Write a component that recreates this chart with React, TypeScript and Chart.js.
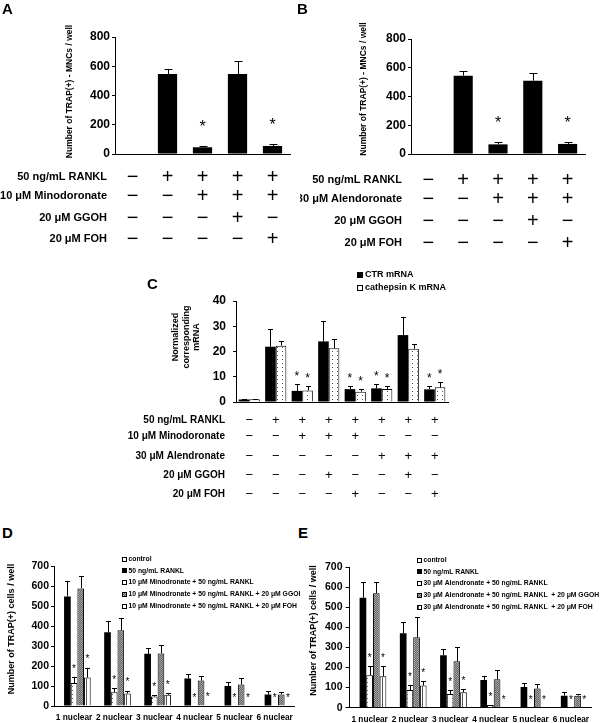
import React, { useEffect, useRef } from 'react';
import { Chart, registerables } from 'chart.js';

Chart.register(...registerables);

const FONT = '"Liberation Sans", Arial, Helvetica, sans-serif';

// ---------------- Panel A ----------------
const aCategories = ['control', 'RANKL', 'RANKL + Minodoronate', 'RANKL + Minodoronate + GGOH', 'RANKL + Minodoronate + FOH'];
const aValues = [0, 547, 46, 547, 55];
const aErrors = [0, 32, 6, 91, 11];
const aStars = [false, false, true, false, true];
const aRowLabels = ['50 ng/mL RANKL', '10 μM Minodoronate', '20 μM GGOH', '20 μM FOH'];
const aRowSigns = ['-++++', '--+++', '---+-', '----+'];

// ---------------- Panel B ----------------
const bCategories = ['control', 'RANKL', 'RANKL + Alendoronate', 'RANKL + Alendoronate + GGOH', 'RANKL + Alendoronate + FOH'];
const bValues = [0, 545, 67, 510, 70];
const bErrors = [0, 35, 19, 55, 15];
const bStars = [false, false, true, false, true];
const bRowLabels = ['50 ng/mL RANKL', '30 μM Alendoronate', '20 μM GGOH', '20 μM FOH'];
const bRowSigns = ['-++++', '--+++', '---+-', '----+'];

// ---------------- Panel C ----------------
const cCategories = ['1', '2', '3', '4', '5', '6', '7', '8'];
const cSeriesLabels = ['CTR mRNA', 'cathepsin K mRNA'];
const cCTR = [1.0, 21.9, 4.4, 24.0, 5.1, 5.4, 26.5, 5.0];
const cCTRErr = [0.2, 6.9, 2.6, 8.2, 1.2, 1.9, 7.3, 1.2];
const cCath = [1.1, 22.3, 4.6, 21.3, 4.1, 5.1, 21.1, 5.8];
const cCathErr = [0.1, 2.0, 1.7, 3.7, 1.0, 1.4, 1.9, 2.0];
const cCTRStars = [false, false, true, false, true, true, false, true];
const cCathStars = [false, false, true, false, true, true, false, true];
const cRowLabels = ['50 ng/mL RANKL', '10 μM Minodoronate', '30 μM Alendronate', '20 μM GGOH', '20 μM FOH'];
const cRowSigns = ['-+++++++', '--+++---', '-----+++', '---+--+-', '----+--+'];

// ---------------- Panels D / E ----------------
const nuclearLabels = ['1 nuclear', '2 nuclear', '3 nuclear', '4 nuclear', '5 nuclear', '6 nuclear'];

const dSeriesLabels = [
  'control',
  '50 ng/mL RANKL',
  '10 μM Minodronate + 50 ng/mL RANKL',
  '10 μM Minodronate + 50 ng/mL RANKL + 20 μM GGOH',
  '10 μM Minodronate + 50 ng/mL RANKL + 20 μM FOH',
];
const dControl = [0, 0, 0, 0, 0, 0];
const dRankl = [548, 369, 261, 137, 100, 57];
const dRanklErr = [78, 55, 31, 22, 20, 17];
const dMino = [115, 69, 47, 0, 0, 0];
const dMinoErr = [30, 21, 9, 0, 0, 0];
const dGgoh = [588, 379, 262, 127, 107, 58];
const dGgohErr = [63, 62, 44, 25, 35, 12];
const dFoh = [142, 62, 56, 3, 0, 0];
const dFohErr = [50, 15, 10, 0, 0, 0];
const dMinoStars = [true, true, true, true, true, true];
const dFohStars = [true, true, true, true, true, true];

const eSeriesLabels = [
  'control',
  '50 ng/mL RANKL',
  '30 μM Alendronate + 50 ng/mL RANKL',
  '30 μM Alendronate + 50 ng/mL RANKL  + 20 μM GGOH',
  '30 μM Alendronate + 50 ng/mL RANKL  + 20 μM FOH',
];
const eControl = [0, 0, 0, 0, 0, 0];
const eRankl = [547, 370, 261, 138, 103, 60];
const eRanklErr = [80, 56, 31, 21, 21, 16];
const eAlen = [161, 88, 68, 13, 0, 0];
const eAlenErr = [45, 26, 20, 0, 0, 0];
const eGgoh = [569, 350, 231, 141, 95, 60];
const eGgohErr = [55, 103, 71, 45, 24, 10];
const eFoh = [156, 110, 77, 0, 0, 0];
const eFohErr = [50, 23, 15, 0, 0, 0];
const eAlenStars = [true, true, true, true, true, true];
const eFohStars = [true, true, true, true, true, true];

const noStars6 = [false, false, false, false, false, false];
const zeros6 = [0, 0, 0, 0, 0, 0];

type Fill = string | CanvasPattern;
type Series = { label: string; data: number[]; err: number[]; stars: boolean[]; fill: Fill; outline: boolean };
type Panel = {
  labels: string[];
  series: Series[];
  yMax: number; yStep: number; yTickSize: number; tickLen: number; tickPad: number;
  padTop: number; padRight: number; padBottom: number; yWidth: number; xHeight: number;
  catPct: number; barPct: number;
  xTickSize?: number; xTickPad?: number;
  title: { lines: string[]; x: number; y: number; size: number; lh: number };
  capW: number; starSize: number; starGap: number;
  table?: { labels: string[]; signs: string[]; dy: number[]; right: number; labelSize: number; signSize: number };
  legend?: { x: number; y: number; dy: number; box: number; gap: number; size: number };
};

function makePatterns() {
  const mk = (w: number, h: number, draw: (g: CanvasRenderingContext2D) => void) => {
    const c = document.createElement('canvas');
    c.width = w; c.height = h;
    const g = c.getContext('2d')!;
    draw(g);
    return g.createPattern(c, 'repeat')!;
  };
  const dots = mk(5, 4, (g) => {
    g.fillStyle = '#fff'; g.fillRect(0, 0, 5, 4);
    g.fillStyle = '#555'; g.fillRect(2, 1, 1, 1);
  });
  const hatch = mk(2, 2, (g) => {
    g.fillStyle = '#a6a6a6'; g.fillRect(0, 0, 2, 2);
    g.fillStyle = '#636363'; g.fillRect(0, 0, 1, 1); g.fillRect(1, 1, 1, 1);
  });
  const stripes = mk(4, 1, (g) => {
    g.fillStyle = '#fff'; g.fillRect(0, 0, 4, 1);
    g.fillStyle = '#555'; g.fillRect(2, 0, 1, 1);
  });
  return { dots, hatch, stripes };
}

function buildChart(canvas: HTMLCanvasElement, p: Panel): Chart {
  const decor = {
    id: 'decor',
    afterDatasetsDraw(chart: any) {
      const ctx: CanvasRenderingContext2D = chart.ctx;
      const ys = chart.scales.y;
      ctx.save();
      ctx.strokeStyle = '#000';
      ctx.fillStyle = '#000';
      ctx.lineWidth = 1;
      p.series.forEach((s, i) => {
        const meta = chart.getDatasetMeta(i);
        meta.data.forEach((el: any, j: number) => {
          const v = s.data[j];
          const e = s.err[j];
          const x = Math.round(el.x) + 0.5;
          const top = ys.getPixelForValue(v + e);
          if (e > 0) {
            const base = ys.getPixelForValue(v);
            const ty = Math.round(top) + 0.5;
            ctx.beginPath();
            ctx.moveTo(x, base);
            ctx.lineTo(x, ty);
            ctx.moveTo(x - p.capW / 2, ty);
            ctx.lineTo(x + p.capW / 2, ty);
            ctx.stroke();
          }
          if (s.stars[j]) {
            ctx.font = `${p.starSize}px ${FONT}`;
            ctx.textAlign = 'center';
            ctx.textBaseline = 'alphabetic';
            const cy = top - p.starGap;
            ctx.fillText('*', el.x, cy + 0.58 * p.starSize);
          }
        });
      });
      ctx.restore();
    },
    afterDraw(chart: any) {
      const ctx: CanvasRenderingContext2D = chart.ctx;
      const xs = chart.scales.x;
      const area = chart.chartArea;
      ctx.save();
      ctx.fillStyle = '#000';
      // y-axis title
      const t = p.title;
      ctx.save();
      ctx.translate(t.x, t.y);
      ctx.rotate(-Math.PI / 2);
      ctx.font = `bold ${t.size}px ${FONT}`;
      ctx.textAlign = 'center';
      ctx.textBaseline = 'middle';
      t.lines.forEach((ln, k) => ctx.fillText(ln, 0, (k - (t.lines.length - 1) / 2) * t.lh));
      ctx.restore();
      // condition table
      if (p.table) {
        const tb = p.table;
        tb.labels.forEach((lab, r) => {
          const y = area.bottom + tb.dy[r];
          ctx.font = `bold ${tb.labelSize}px ${FONT}`;
          ctx.textAlign = 'right';
          ctx.textBaseline = 'middle';
          ctx.fillText(lab, tb.right, y);
          ctx.font = `${tb.signSize}px ${FONT}`;
          ctx.textAlign = 'center';
          tb.signs[r].split('').forEach((ch, c) => {
            ctx.fillText(ch === '+' ? '+' : '\u2212', xs.getPixelForValue(c), y);
          });
        });
      }
      // legend
      if (p.legend) {
        const L = p.legend;
        p.series.forEach((s, i) => {
          const cy = L.y + i * L.dy;
          const bx = L.x;
          const by = Math.round(cy - L.box / 2);
          ctx.fillStyle = s.fill as any;
          ctx.fillRect(bx, by, L.box, L.box);
          if (s.outline) {
            ctx.strokeStyle = '#000';
            ctx.lineWidth = 1;
            ctx.strokeRect(bx + 0.5, by + 0.5, L.box - 1, L.box - 1);
          }
          ctx.fillStyle = '#000';
          ctx.font = `bold ${L.size}px ${FONT}`;
          ctx.textAlign = 'left';
          ctx.textBaseline = 'middle';
          ctx.fillText(s.label, bx + L.box + L.gap, cy);
        });
      }
      ctx.restore();
    },
  };

  const xTicks = p.xTickSize
    ? { display: true, autoSkip: false, maxRotation: 0, minRotation: 0, padding: p.xTickPad ?? 4, color: '#000', font: { family: FONT, size: p.xTickSize, weight: 'bold' as const } }
    : { display: false };

  return new Chart(canvas, {
    type: 'bar',
    data: {
      labels: p.labels,
      datasets: p.series.map((s) => ({
        label: s.label,
        data: s.data,
        backgroundColor: s.fill as any,
        borderColor: '#000',
        borderWidth: s.outline ? 1 : 0,
        categoryPercentage: p.catPct,
        barPercentage: p.barPct,
      })),
    },
    options: {
      responsive: false,
      animation: false,
      layout: { padding: { left: 0, right: p.padRight, top: p.padTop, bottom: p.padBottom } },
      plugins: { legend: { display: false }, tooltip: { enabled: false } },
      scales: {
        x: {
          type: 'category',
          offset: true,
          grid: { display: false, drawTicks: false },
          border: { display: true, color: '#000', width: 1 },
          ticks: xTicks as any,
          afterFit: (s: any) => { s.height = p.xHeight; },
        },
        y: {
          min: 0,
          max: p.yMax,
          ticks: { stepSize: p.yStep, padding: p.tickPad, color: '#000', font: { family: FONT, size: p.yTickSize, weight: 'bold' } },
          grid: { display: true, drawOnChartArea: false, drawTicks: true, tickLength: p.tickLen, color: '#000', lineWidth: 1 },
          border: { display: true, color: '#000', width: 1 },
          afterFit: (s: any) => { s.width = p.yWidth; },
        },
      },
    } as any,
    plugins: [decor],
  });
}

const letterStyle = (left: number, top: number): React.CSSProperties => ({
  position: 'absolute', left, top, fontFamily: FONT, fontWeight: 'bold', fontSize: 15, lineHeight: '15px', color: '#000',
});

export default function App() {
  const refA = useRef<HTMLCanvasElement>(null);
  const refB = useRef<HTMLCanvasElement>(null);
  const refC = useRef<HTMLCanvasElement>(null);
  const refD = useRef<HTMLCanvasElement>(null);
  const refE = useRef<HTMLCanvasElement>(null);

  useEffect(() => {
    const pat = makePatterns();
    const signSizeAB = 20;

    const charts: Chart[] = [];

    charts.push(buildChart(refA.current!, {
      labels: aCategories,
      series: [{ label: 'TRAP(+) MNCs', data: aValues, err: aErrors, stars: aStars, fill: '#000', outline: false }],
      yMax: 800, yStep: 200, yTickSize: 12, tickLen: 3, tickPad: 2,
      padTop: 37, padRight: 10, padBottom: 101, yWidth: 115, xHeight: 0,
      catPct: 1, barPct: 0.55,
      title: { lines: ['Number of TRAP(+) - MNCs / well'], x: 70, y: 91.5, size: 8.5, lh: 10 },
      capW: 8, starSize: 16, starGap: 24,
      table: { labels: aRowLabels, signs: aRowSigns, dy: [23, 42, 64, 85], right: 107, labelSize: 11, signSize: signSizeAB },
    }));

    charts.push(buildChart(refB.current!, {
      labels: bCategories,
      series: [{ label: 'TRAP(+) MNCs', data: bValues, err: bErrors, stars: bStars, fill: '#000', outline: false }],
      yMax: 800, yStep: 200, yTickSize: 12, tickLen: 3, tickPad: 2,
      padTop: 39, padRight: 15, padBottom: 101, yWidth: 111, xHeight: 0,
      catPct: 1, barPct: 0.55,
      title: { lines: ['Number of TRAP(+) - MNCs / well'], x: 63.5, y: 89, size: 8.5, lh: 10 },
      capW: 8, starSize: 16, starGap: 23,
      table: { labels: bRowLabels, signs: bRowSigns, dy: [26, 45, 67, 89], right: 102, labelSize: 11, signSize: signSizeAB },
    }));

    charts.push(buildChart(refC.current!, {
      labels: cCategories,
      series: [
        { label: cSeriesLabels[0], data: cCTR, err: cCTRErr, stars: cCTRStars, fill: '#000', outline: false },
        { label: cSeriesLabels[1], data: cCath, err: cCathErr, stars: cCathStars, fill: pat.dots, outline: true },
      ],
      yMax: 40, yStep: 10, yTickSize: 12, tickLen: 3, tickPad: 7,
      padTop: 31, padRight: 12, padBottom: 103, yWidth: 136, xHeight: 0,
      catPct: 0.8, barPct: 1,
      title: { lines: ['Normalized', 'corresponding', 'mRNA'], x: 86.5, y: 67, size: 9, lh: 10.5 },
      capW: 5, starSize: 12, starGap: 11,
      table: { labels: cRowLabels, signs: cRowSigns, dy: [18, 34.7, 54.5, 73, 92], right: 125, labelSize: 10, signSize: 13 },
      legend: { x: 257, y: 5, dy: 13, box: 6, gap: 2, size: 9 },
    }));

    charts.push(buildChart(refD.current!, {
      labels: nuclearLabels,
      series: [
        { label: dSeriesLabels[0], data: dControl, err: zeros6, stars: noStars6, fill: '#fff', outline: true },
        { label: dSeriesLabels[1], data: dRankl, err: dRanklErr, stars: noStars6, fill: '#000', outline: false },
        { label: dSeriesLabels[2], data: dMino, err: dMinoErr, stars: dMinoStars, fill: pat.dots, outline: true },
        { label: dSeriesLabels[3], data: dGgoh, err: dGgohErr, stars: noStars6, fill: pat.hatch, outline: true },
        { label: dSeriesLabels[4], data: dFoh, err: dFohErr, stars: dFohStars, fill: pat.stripes, outline: true },
      ],
      yMax: 700, yStep: 100, yTickSize: 10.5, tickLen: 3, tickPad: 2,
      padTop: 21, padRight: 2, padBottom: 0, yWidth: 54, xHeight: 17,
      catPct: 0.83, barPct: 1,
      xTickSize: 8.3, xTickPad: 7,
      title: { lines: ['Number of TRAP(+) cells / well'], x: 11.7, y: 84, size: 9, lh: 10 },
      capW: 5, starSize: 10, starGap: 11,
      legend: { x: 122, y: 14, dy: 11.75, box: 5, gap: 1.5, size: 6.8 },
    }));

    charts.push(buildChart(refE.current!, {
      labels: nuclearLabels,
      series: [
        { label: eSeriesLabels[0], data: eControl, err: zeros6, stars: noStars6, fill: '#fff', outline: true },
        { label: eSeriesLabels[1], data: eRankl, err: eRanklErr, stars: noStars6, fill: '#000', outline: false },
        { label: eSeriesLabels[2], data: eAlen, err: eAlenErr, stars: eAlenStars, fill: pat.dots, outline: true },
        { label: eSeriesLabels[3], data: eGgoh, err: eGgohErr, stars: noStars6, fill: pat.hatch, outline: true },
        { label: eSeriesLabels[4], data: eFoh, err: eFohErr, stars: eFohStars, fill: pat.stripes, outline: true },
      ],
      yMax: 700, yStep: 100, yTickSize: 10.5, tickLen: 4, tickPad: 3,
      padTop: 22, padRight: 9, padBottom: 0, yWidth: 49.5, xHeight: 15.3,
      catPct: 0.83, barPct: 1,
      xTickSize: 8.3, xTickPad: 7,
      title: { lines: ['Number of TRAP(+) cells / well'], x: 14, y: 85.5, size: 9, lh: 10 },
      capW: 5, starSize: 10, starGap: 11,
      legend: { x: 117, y: 15, dy: 11.75, box: 5, gap: 1.5, size: 6.8 },
    }));

    return () => charts.forEach((c) => c.destroy());
  }, []);

  const cv = (left: number, top: number, w: number, h: number): React.CSSProperties => ({
    position: 'absolute', left, top, width: w, height: h,
  });

  return (
    <div style={{ position: 'absolute', left: 0, top: 0, width: 600, height: 723, background: '#fff', overflow: 'hidden' }}>
      <canvas ref={refA} width={300} height={255} style={cv(0, 0, 300, 255)} />
      <canvas ref={refB} width={300} height={255} style={cv(300, 0, 300, 255)} />
      <canvas ref={refC} width={360} height={235} style={cv(100, 270, 360, 235)} />
      <canvas ref={refD} width={300} height={178} style={cv(0, 545, 300, 178)} />
      <canvas ref={refE} width={300} height={178} style={cv(300, 545, 300, 178)} />
      <div style={letterStyle(2, 1)}>A</div>
      <div style={letterStyle(297, 1)}>B</div>
      <div style={letterStyle(147, 276)}>C</div>
      <div style={letterStyle(2, 525)}>D</div>
      <div style={letterStyle(298, 525)}>E</div>
    </div>
  );
}
